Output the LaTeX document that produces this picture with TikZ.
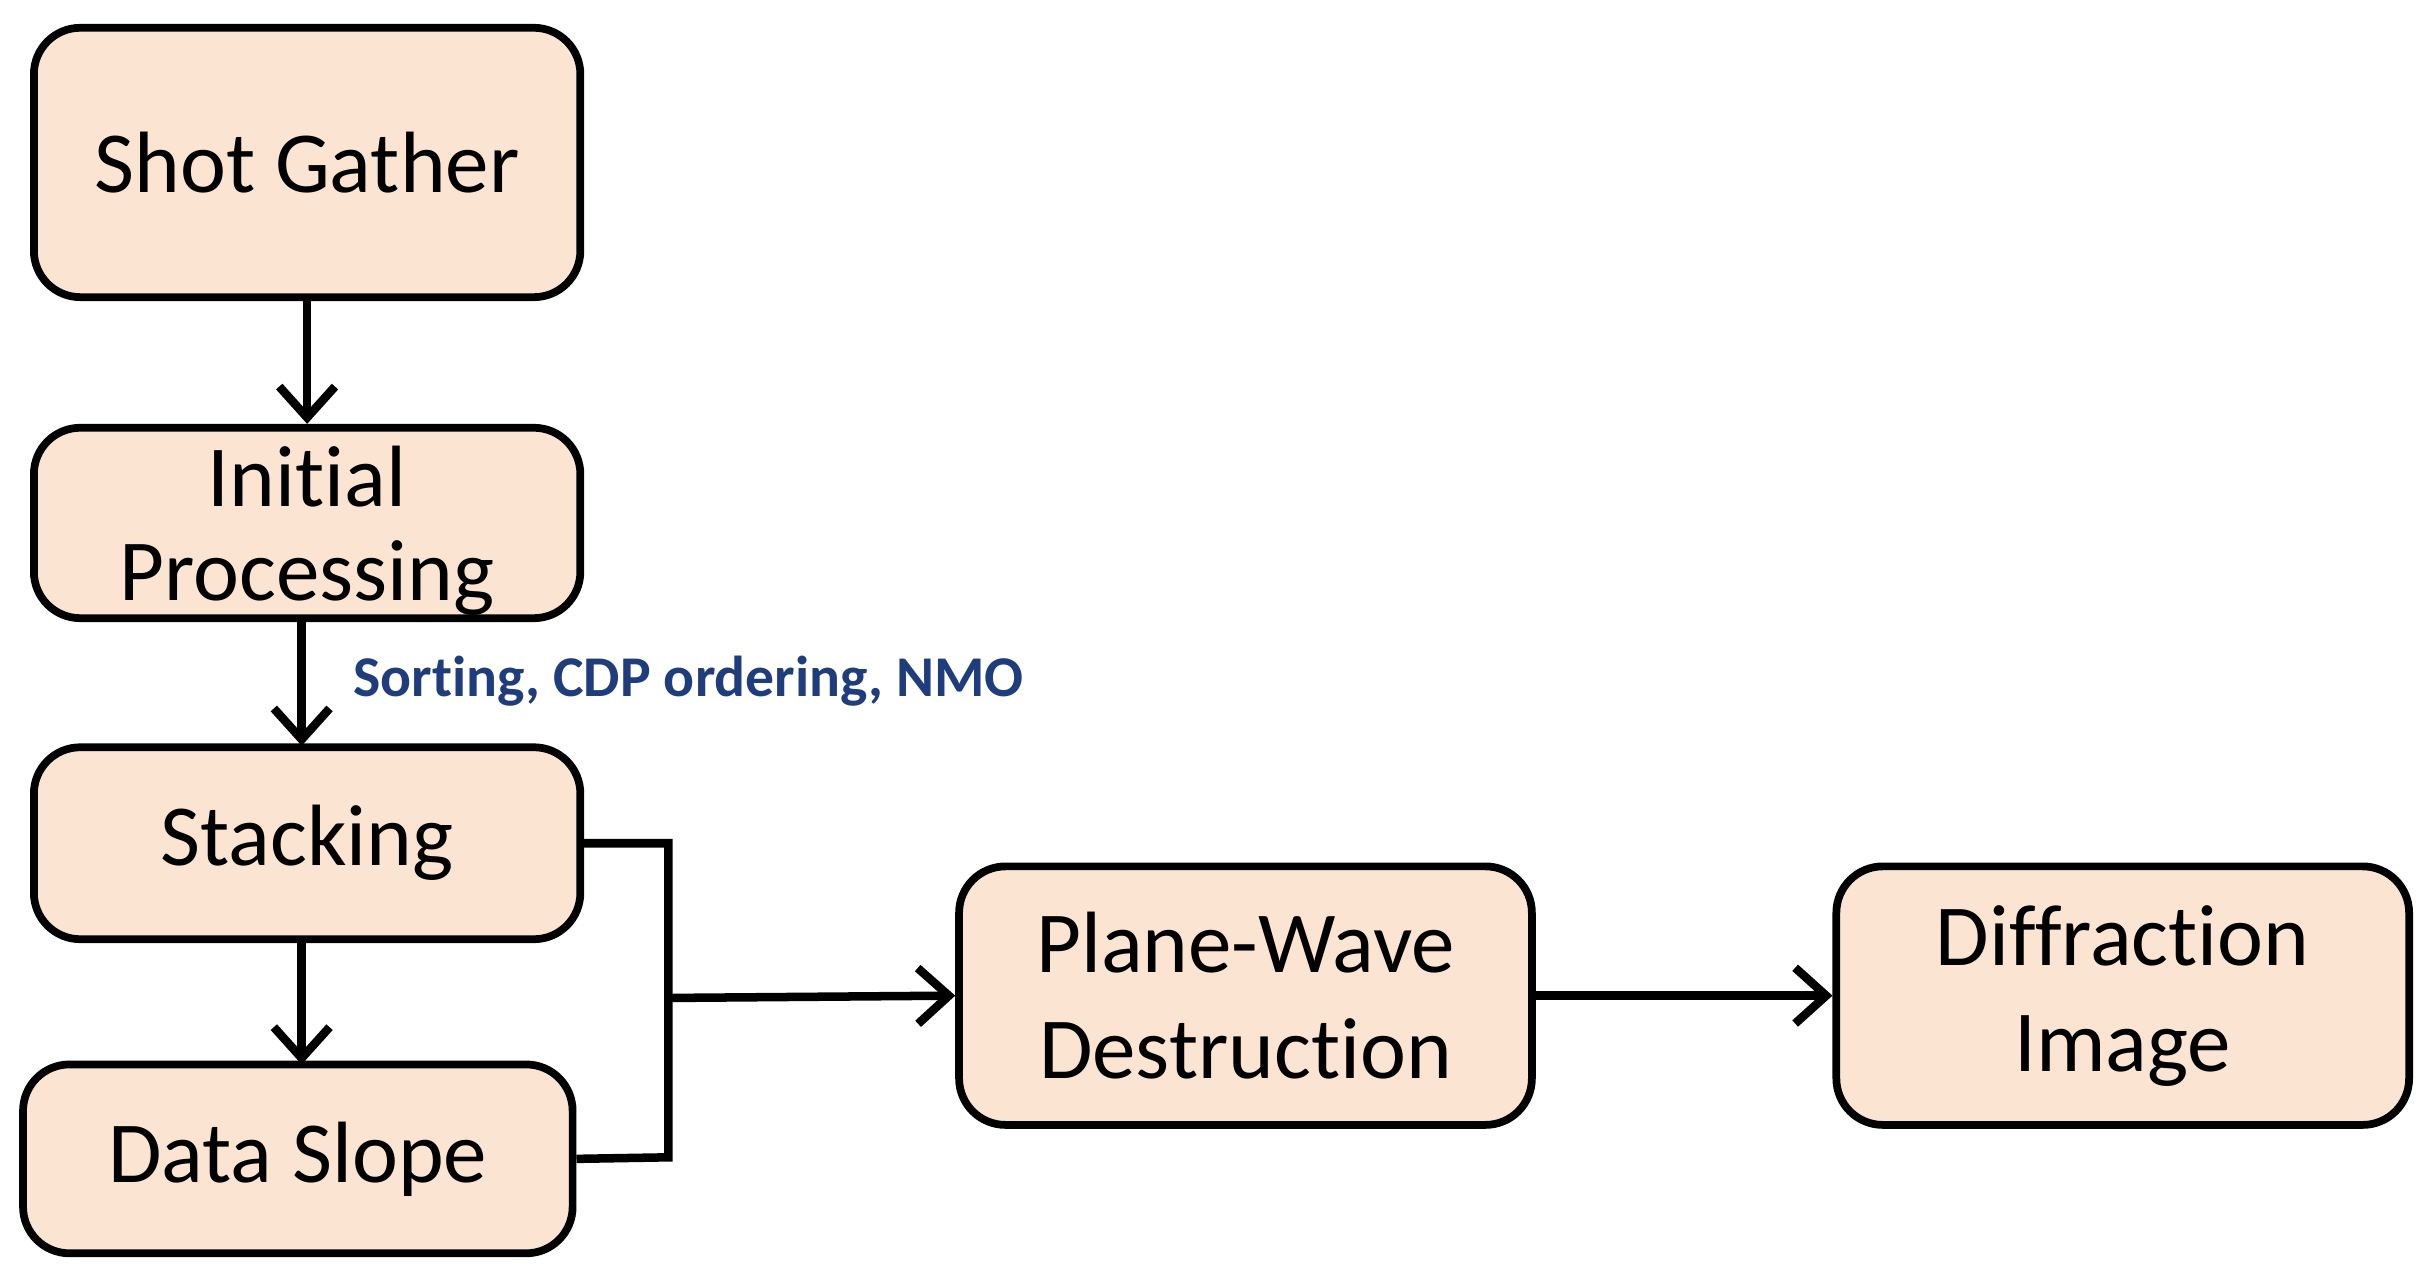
\documentclass[tikz,border=0pt]{standalone}
\usepackage{fontspec}
\setmainfont{Carlito}[Ligatures={NoCommon,TeX}]
\usetikzlibrary{arrows.meta}
\definecolor{peach}{HTML}{FCE4D2}
\definecolor{lblue}{HTML}{1F3C7C}
\begin{document}
\begin{tikzpicture}[x=0.01cm,y=-0.01cm,
  box/.style={draw=black,line width=0.05cm,fill=peach,rounded corners=0.3cm,align=center,font=\fontsize{16}{19.5}\selectfont,inner sep=0pt},
  arr/.style={line width=0.055cm,-{Straight Barb[length=0.2cm,width=0.36cm,line width=0.055cm]}}]
\useasboundingbox (0,0) rectangle (1568,826);
\node[box,minimum width=3.53cm,minimum height=1.74cm] (shot) at (198.5,105) {Shot Gather};
\node[box,minimum width=3.53cm,minimum height=1.23cm,text depth=0pt] (init) at (198.5,338) {Initial\\[-0.08cm]Processing};
\node[box,minimum width=3.53cm,minimum height=1.24cm] (stack) at (198.5,545) {Stacking};
\node[box,minimum width=3.55cm,minimum height=1.22cm] (slope) at (192.5,749) {Data Slope};
\node[box,minimum width=3.70cm,minimum height=1.67cm] (pwd) at (805,643.5) {Plane-Wave\\Destruction};
\node[box,minimum width=3.70cm,minimum height=1.67cm] (diff) at (1372,643.5) {Diffraction\\Image};
\draw[arr] (shot.south) -- (init.north);
\draw[arr] (195,400) -- (195,482);
\draw[arr] (195,607) -- (195,688);
\node[anchor=west,text=lblue,font=\bfseries\fontsize{10.6}{12}\selectfont] (lab) at (216,440) {Sorting, CDP ordering, NMO};
\coordinate (j) at (432,645);
\draw[line width=0.055cm] (stack.east) -- (432,545) -- (432,748) -- (slope.east);
\draw[arr] (j) -- (pwd.west);
\draw[arr] (pwd.east) -- (diff.west);
\end{tikzpicture}
\end{document}
